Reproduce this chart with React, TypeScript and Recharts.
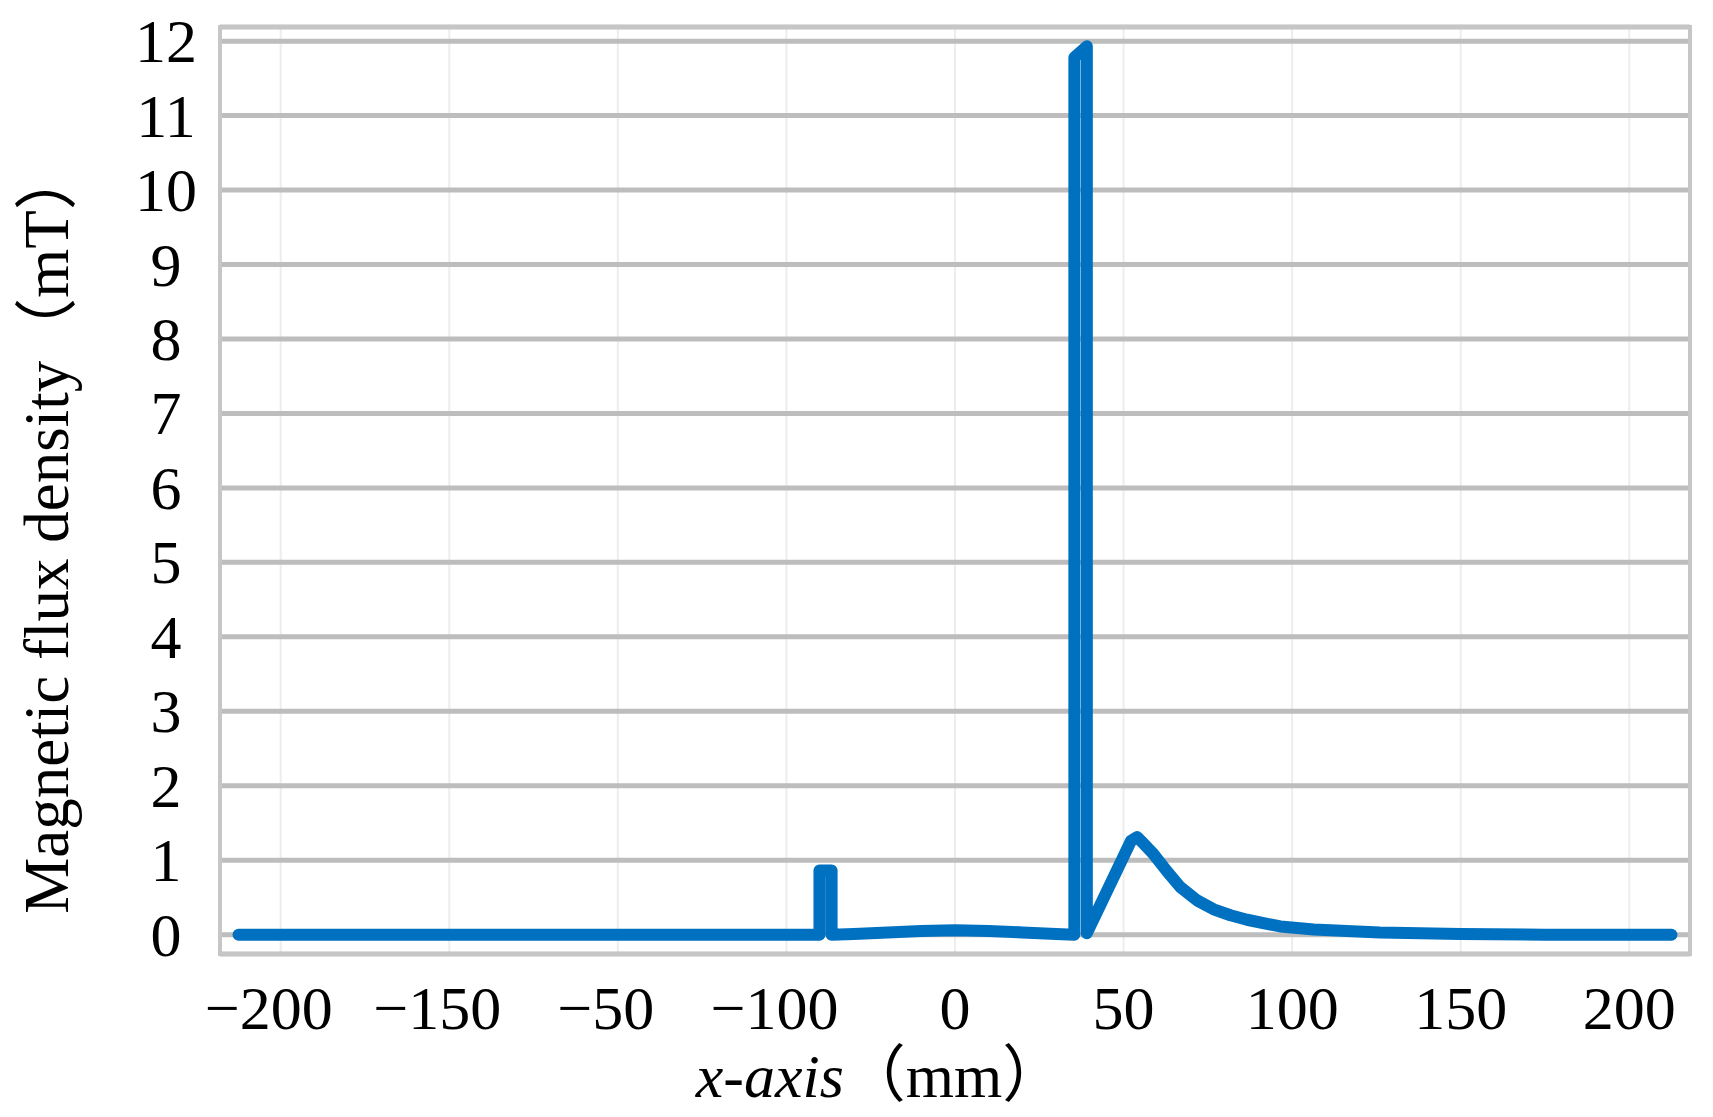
import { LineChart, Line, XAxis, YAxis, CartesianGrid, ReferenceArea } from "recharts";

const X_MM = [
  -212.5, -40.2, -40.2, -36.6, -36.6, -30, -20, -10, 0, 10, 20, 30, 35.4, 35.4, 39.1, 39.1,
  52.2, 54, 56, 58.9, 62.9, 66.8, 71.8, 76.7, 81.7, 86.6, 96.5, 106.4, 126, 150, 175, 212.5,
];
const B_MT = [
  0, 0, 0.86, 0.86, 0, 0.01, 0.03, 0.05, 0.06, 0.05, 0.03, 0.01, 0, 11.78, 11.93, 0.02,
  1.26, 1.31, 1.22, 1.08, 0.85, 0.64, 0.46, 0.34, 0.26, 0.2, 0.11, 0.07, 0.03, 0.01, 0, 0,
];

const X_TICKS = [-200, -150, -100, -50, 0, 50, 100, 150, 200];
// labels as printed in the figure (the -100 / -50 pair is swapped there)
const X_TICK_LABELS = ["\u2212200", "\u2212150", "\u221250", "\u2212100", "0", "50", "100", "150", "200"];
const Y_TICKS = [0, 1, 2, 3, 4, 5, 6, 7, 8, 9, 10, 11, 12];

const X_DOMAIN = [-218, 218];
const Y_DOMAIN = [-0.26, 12.19];

const data = X_MM.map((x, i) => ({ x, b: B_MT[i] }));

const FONT = "'Liberation Serif', 'Times New Roman', 'Noto Sans CJK SC', serif";

function YTick({ x, y, payload }: any) {
  return (
    <text x={x - 54} y={y} textAnchor="middle" dominantBaseline="central" fontSize={62} fontFamily={FONT} fill="#000">
      {payload.value}
    </text>
  );
}

function XTick({ x, y, payload }: any) {
  const label = X_TICK_LABELS[X_TICKS.indexOf(payload.value)];
  const dx = payload.value < 0 ? -12 : 0;
  return (
    <text x={x + dx} y={y + 54} textAnchor="middle" dominantBaseline="central" fontSize={62} fontFamily={FONT} fill="#000">
      {label}
    </text>
  );
}

function YTitle({ viewBox }: any) {
  const cx = viewBox.x + 68;
  const cy = viewBox.y + viewBox.height / 2 + 40;
  return (
    <text x={cx} y={cy} transform={`rotate(-90, ${cx}, ${cy})`} textAnchor="middle" fontSize={63} fontFamily={FONT} fill="#000">
      Magnetic flux density（mT）
    </text>
  );
}

function XTitle({ viewBox }: any) {
  const cx = viewBox.x + viewBox.width / 2 - 75;
  const cy = viewBox.y + 143;
  return (
    <text x={cx} y={cy} textAnchor="middle" fontSize={62} fontFamily={FONT} fill="#000">
      <tspan fontStyle="italic">x-axis</tspan>
      <tspan>（mm）</tspan>
    </text>
  );
}

export default function App() {
  return (
    <div style={{ position: "absolute", left: 0, top: 0, background: "#fff" }}>
      <LineChart width={1713} height={1117} data={data} margin={{ top: 27, right: 23, bottom: 0, left: 0 }}>
        <CartesianGrid horizontal={false} stroke="#ededed" strokeWidth={2} />
        <CartesianGrid vertical={false} stroke="#bdbdbd" strokeWidth={5} />
        <XAxis
          type="number"
          dataKey="x"
          domain={X_DOMAIN}
          ticks={X_TICKS}
          allowDataOverflow
          height={163}
          tickSize={0}
          tickMargin={0}
          tickLine={false}
          axisLine={false}
          tick={<XTick />}
          label={<XTitle />}
        />
        <YAxis
          type="number"
          domain={Y_DOMAIN}
          ticks={Y_TICKS}
          allowDataOverflow
          width={220}
          tickSize={0}
          tickMargin={0}
          tickLine={false}
          axisLine={false}
          tick={<YTick />}
          label={<YTitle />}
        />
        <ReferenceArea
          x1={X_DOMAIN[0]}
          x2={X_DOMAIN[1]}
          y1={Y_DOMAIN[0]}
          y2={Y_DOMAIN[1]}
          fill="none"
          stroke="#c6c6c6"
          strokeWidth={4}
          ifOverflow="visible"
        />
        <Line
          type="linear"
          dataKey="b"
          stroke="#0071c1"
          strokeWidth={12}
          strokeLinejoin="round"
          strokeLinecap="round"
          dot={false}
          isAnimationActive={false}
        />
      </LineChart>
    </div>
  );
}
